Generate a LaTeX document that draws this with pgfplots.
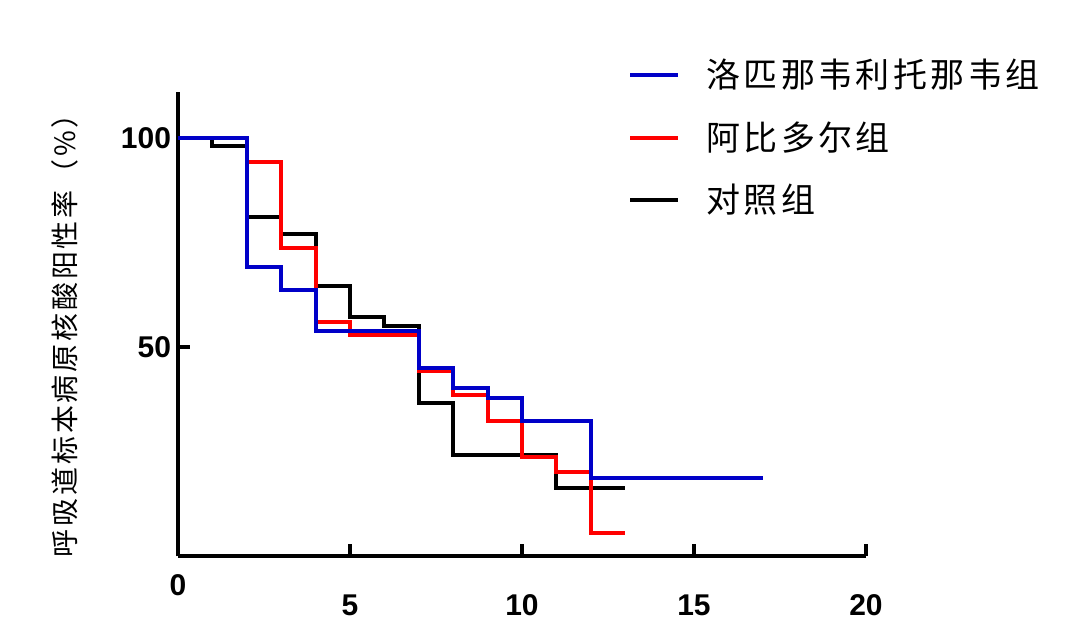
\documentclass[border=0pt]{standalone}
\usepackage{pgfplots}
\pgfplotsset{compat=1.18}
\usepackage{fontspec}
\setmainfont{Liberation Sans}
\newfontfamily\cjkylab[LetterSpace=10]{Noto Sans CJK SC}
\newfontfamily\cjkleg[LetterSpace=10]{Noto Sans CJK SC}
\definecolor{myblue}{RGB}{0,0,200}
\definecolor{myred}{RGB}{255,0,0}
\begin{document}
\begin{tikzpicture}
\useasboundingbox (-89bp,-33bp) rectangle (451bp,278bp);
\begin{axis}[
  at={(0,0)}, anchor=south west,
  scale only axis, width=344bp, height=232bp,
  xmin=0, xmax=20, ymin=0, ymax=111,
  axis lines=left,
  axis line style={-, line width=2bp, black},
  xtick={5,10,15,20}, ytick={50,100},
  extra x ticks={0},
  extra x tick style={xticklabel style={yshift=10bp}},
  tick align=inside,
  major tick length=6bp,
  tick style={line width=2bp, black},
  /pgf/number format/assume math mode=true,
  ticklabel style={font=\bfseries\fontsize{15bp}{15bp}\selectfont},
  xticklabel shift=16bp,
  ylabel={呼吸道标本病原核酸阳性率（\%）},
  ylabel style={font=\cjkylab\fontsize{14bp}{14bp}\selectfont, at={(axis description cs:-0.164,0.49)}, anchor=center},
  clip=false,
  reverse legend,
  legend cell align=left,
  legend style={draw=none, fill=none, at={(0.654,1.08)}, anchor=north west,
    font=\cjkleg\fontsize{17bp}{17bp}\selectfont, row sep=11.5bp, inner sep=0pt,
    /tikz/every odd column/.append style={column sep=11bp}},
  legend image code/.code={\draw[#1] (0bp,0bp) -- (24bp,0bp);},
]
\addplot[black, line width=2bp, const plot mark left] coordinates {
(0,100)(1,98.2)(2,81.2)(3,77)(4,64.7)(5,57.2)(6,55)(7,36.5)(8,24.2)(11,16.2)(13,16.2)};
\addlegendentry{对照组}
\addplot[myred, line width=2bp, const plot mark left] coordinates {
(0,100)(2,94.3)(3,73.7)(4,56)(5,52.9)(7,44.3)(8,38.5)(9,32.4)(10,23.6)(11,20.2)(12,5.4)(13,5.4)};
\addlegendentry{阿比多尔组}
\addplot[myblue, line width=2bp, const plot mark left] coordinates {
(0,100)(2,69.2)(3,63.6)(4,53.9)(7,44.9)(8,40.2)(9,37.8)(10,32.4)(12,18.6)(17,18.6)};
\addlegendentry{洛匹那韦利托那韦组}
\end{axis}
\end{tikzpicture}
\end{document}
